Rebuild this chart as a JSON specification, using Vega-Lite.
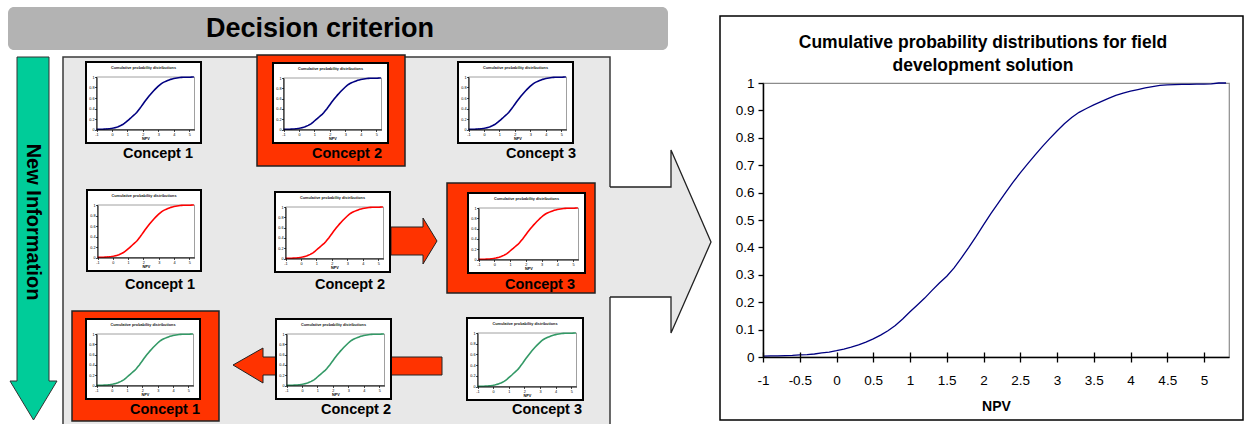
{
 "$schema": "https://vega.github.io/schema/vega-lite/v6.json",
 "width": 466,
 "height": 274,
 "autosize": {"type": "none"},
 "padding": {"left": 763, "top": 83, "right": 18, "bottom": 67},
 "background": "white",
 "title": {"text": ["Cumulative probability distributions for field", "development solution"], "fontSize": 17.5, "fontWeight": "bold", "font": "Liberation Sans", "color": "black", "lineHeight": 23, "anchor": "middle", "dx": -13, "offset": -67},
 "config": {
  "view": {"stroke": "#8c8c8c", "strokeWidth": 1.2},
  "font": "Liberation Sans",
  "axis": {"labelFontSize": 3.8, "tickSize": 2, "labelPadding": 0.5, "domainColor": "black", "tickColor": "black", "domainWidth": 1, "tickWidth": 0.7, "labelColor": "black", "grid": false, "labelOverlap": false, "labelFlush": false, "titleFontSize": 3.8, "titlePadding": 0.5, "titleFontWeight": "bold", "titleColor": "black", "labelFont": "Liberation Sans", "titleFont": "Liberation Sans"}
 },
 "datasets": {
  "cdf": [
   {"npv": -1.0, "p": 0.003}, {"npv": -0.9, "p": 0.004}, {"npv": -0.8, "p": 0.004}, {"npv": -0.7, "p": 0.005},
   {"npv": -0.6, "p": 0.006}, {"npv": -0.5, "p": 0.008}, {"npv": -0.4, "p": 0.009}, {"npv": -0.3, "p": 0.011},
   {"npv": -0.2, "p": 0.015}, {"npv": -0.1, "p": 0.018}, {"npv": 0.0, "p": 0.023}, {"npv": 0.1, "p": 0.029},
   {"npv": 0.2, "p": 0.036}, {"npv": 0.3, "p": 0.044}, {"npv": 0.4, "p": 0.054}, {"npv": 0.5, "p": 0.066},
   {"npv": 0.6, "p": 0.08}, {"npv": 0.7, "p": 0.096}, {"npv": 0.8, "p": 0.115}, {"npv": 0.9, "p": 0.139},
   {"npv": 1.0, "p": 0.165}, {"npv": 1.1, "p": 0.19}, {"npv": 1.2, "p": 0.215}, {"npv": 1.3, "p": 0.243},
   {"npv": 1.4, "p": 0.27}, {"npv": 1.5, "p": 0.295}, {"npv": 1.6, "p": 0.325}, {"npv": 1.7, "p": 0.362},
   {"npv": 1.8, "p": 0.4}, {"npv": 1.9, "p": 0.44}, {"npv": 2.0, "p": 0.482}, {"npv": 2.1, "p": 0.523},
   {"npv": 2.2, "p": 0.562}, {"npv": 2.3, "p": 0.6}, {"npv": 2.4, "p": 0.637}, {"npv": 2.5, "p": 0.672},
   {"npv": 2.6, "p": 0.705}, {"npv": 2.7, "p": 0.737}, {"npv": 2.8, "p": 0.768}, {"npv": 2.9, "p": 0.797},
   {"npv": 3.0, "p": 0.825}, {"npv": 3.1, "p": 0.851}, {"npv": 3.2, "p": 0.874}, {"npv": 3.3, "p": 0.893},
   {"npv": 3.4, "p": 0.907}, {"npv": 3.5, "p": 0.92}, {"npv": 3.6, "p": 0.932}, {"npv": 3.7, "p": 0.944},
   {"npv": 3.8, "p": 0.955}, {"npv": 3.9, "p": 0.963}, {"npv": 4.0, "p": 0.97}, {"npv": 4.1, "p": 0.976},
   {"npv": 4.2, "p": 0.982}, {"npv": 4.3, "p": 0.987}, {"npv": 4.4, "p": 0.991}, {"npv": 4.5, "p": 0.993},
   {"npv": 4.6, "p": 0.994}, {"npv": 4.7, "p": 0.995}, {"npv": 4.8, "p": 0.995}, {"npv": 4.9, "p": 0.996},
   {"npv": 5.0, "p": 0.996}, {"npv": 5.1, "p": 0.997}, {"npv": 5.2, "p": 1.0}, {"npv": 5.3, "p": 1.0}
  ]
 },
 "resolve": {"scale": {"x": "independent", "y": "independent"}},
 "layer": [
  {
   "encoding": {
    "x": {"field": "x", "type": "quantitative", "scale": {"domain": [0, 1247], "range": [-763, 484], "nice": false, "zero": false}, "axis": null},
    "y": {"field": "y", "type": "quantitative", "scale": {"domain": [0, 424], "range": [-83, 341], "nice": false, "zero": false}, "axis": null}
   },
   "layer": [
    {"data": {"values": [{"x": 8, "x2": 668, "y": 7, "y2": 50}]}, "mark": {"type": "rect", "fill": "#b3b3b3", "cornerRadius": 6}, "encoding": {"x2": {"field": "x2"}, "y2": {"field": "y2"}}},
    {"data": {"values": [{"x": 320, "y": 29, "t": "Decision criterion"}]}, "mark": {"type": "text", "fontSize": 27, "fontWeight": "bold", "color": "black", "font": "Liberation Sans"}, "encoding": {"text": {"field": "t"}}},
    {"data": {"values": [{"x": 720, "x2": 1243, "y": 16, "y2": 420}]}, "mark": {"type": "rect", "filled": false, "stroke": "black", "strokeWidth": 1.5}, "encoding": {"x2": {"field": "x2"}, "y2": {"field": "y2"}}},
    {"data": {"values": [{"x": 63, "x2": 610, "y": 57, "y2": 432}]}, "mark": {"type": "rect", "fill": "#e8e8e8", "stroke": "#3a3a3a", "strokeWidth": 1.5}, "encoding": {"x2": {"field": "x2"}, "y2": {"field": "y2"}}},
    {"data": {"values": [{"x": 605, "y": 187, "y2": 297}, {"x": 671, "y": 187, "y2": 297}, {"x": 671, "y": 150, "y2": 333}, {"x": 711, "y": 242, "y2": 242}]}, "mark": {"type": "area", "fill": "#e8e8e8", "interpolate": "linear"}, "encoding": {"y2": {"field": "y2"}}},
    {"data": {"values": [{"o": 1, "x": 610, "y": 187}, {"o": 2, "x": 671, "y": 187}, {"o": 3, "x": 671, "y": 150}, {"o": 4, "x": 711, "y": 242}, {"o": 5, "x": 671, "y": 333}, {"o": 6, "x": 671, "y": 297}, {"o": 7, "x": 610, "y": 297}]}, "mark": {"type": "line", "color": "#222222", "strokeWidth": 1.3}, "encoding": {"order": {"field": "o"}}},
    {"data": {"values": [{"y": 57, "x": 17, "x2": 49}, {"y": 381, "x": 17, "x2": 49}, {"y": 381, "x": 10, "x2": 57}, {"y": 420, "x": 33.5, "x2": 33.5}]}, "mark": {"type": "area", "orient": "horizontal", "fill": "#00cc99", "stroke": "#333333", "strokeWidth": 1}, "encoding": {"x2": {"field": "x2"}}},
    {"data": {"values": [{"x": 33, "y": 222, "t": "New Information"}]}, "mark": {"type": "text", "angle": 90, "fontSize": 20, "fontWeight": "bold", "color": "black", "font": "Liberation Sans"}, "encoding": {"text": {"field": "t"}}},
    {"data": {"values": [{"x": 257, "x2": 405, "y": 55, "y2": 166}, {"x": 447, "x2": 595, "y": 183, "y2": 293}, {"x": 72, "x2": 219, "y": 311, "y2": 421}]}, "mark": {"type": "rect", "fill": "#ff3300", "stroke": "#222222", "strokeWidth": 1.5}, "encoding": {"x2": {"field": "x2"}, "y2": {"field": "y2"}}},
    {"data": {"values": [
      {"id": "a", "x": 391, "y": 227, "y2": 255}, {"id": "a", "x": 423, "y": 227, "y2": 255}, {"id": "a", "x": 423, "y": 218, "y2": 264}, {"id": "a", "x": 437, "y": 241, "y2": 241},
      {"id": "b", "x": 233, "y": 365, "y2": 365}, {"id": "b", "x": 263, "y": 348, "y2": 383}, {"id": "b", "x": 263, "y": 357, "y2": 375}, {"id": "b", "x": 442, "y": 357, "y2": 375}
     ]}, "mark": {"type": "area", "fill": "#ff3300", "stroke": "#222222", "strokeWidth": 1}, "encoding": {"y2": {"field": "y2"}, "detail": {"field": "id", "type": "nominal"}}},
    {"data": {"values": [
      {"x": 86, "x2": 201, "y": 62, "y2": 143}, {"x": 273, "x2": 388, "y": 63, "y2": 143}, {"x": 458, "x2": 573, "y": 62, "y2": 143},
      {"x": 87, "x2": 201, "y": 190, "y2": 271}, {"x": 275, "x2": 390, "y": 192, "y2": 272}, {"x": 468, "x2": 585, "y": 193, "y2": 273},
      {"x": 86, "x2": 200, "y": 319, "y2": 399}, {"x": 276, "x2": 391, "y": 319, "y2": 399}, {"x": 467, "x2": 583, "y": 318, "y2": 400}
     ]}, "mark": {"type": "rect", "fill": "white", "stroke": "black", "strokeWidth": 2}, "encoding": {"x2": {"field": "x2"}, "y2": {"field": "y2"}}},
    {"data": {"values": [
      {"x": 158, "y": 154, "t": "Concept 1"}, {"x": 347, "y": 154, "t": "Concept 2"}, {"x": 541, "y": 154, "t": "Concept 3"},
      {"x": 160, "y": 285, "t": "Concept 1"}, {"x": 350, "y": 285, "t": "Concept 2"}, {"x": 540, "y": 285, "t": "Concept 3"},
      {"x": 165, "y": 410, "t": "Concept 1"}, {"x": 356, "y": 410, "t": "Concept 2"}, {"x": 547, "y": 410, "t": "Concept 3"}
     ]}, "mark": {"type": "text", "fontSize": 14.5, "fontWeight": "bold", "color": "black", "font": "Liberation Sans"}, "encoding": {"text": {"field": "t"}}},
    {"data": {"values": [
      {"x": 143.5, "y": 68}, {"x": 330.5, "y": 69}, {"x": 515.5, "y": 68},
      {"x": 144, "y": 196}, {"x": 332.5, "y": 198}, {"x": 526.5, "y": 199},
      {"x": 143, "y": 325}, {"x": 333.5, "y": 325}, {"x": 525, "y": 324}
     ]}, "mark": {"type": "text", "fontSize": 3.8, "fontWeight": "bold", "color": "#111111", "font": "Liberation Sans", "text": "Cumulative probability distributions"}}
   ]
  },
  {
   "layer": [
    {"data": {"values": [{}]}, "mark": {"type": "rect", "fill": "white", "stroke": "#888888", "strokeWidth": 0.8}, "encoding": {"x": {"datum": -1, "type": "quantitative"}, "x2": {"datum": 5.34}, "y": {"datum": 0, "type": "quantitative"}, "y2": {"datum": 1}}},
    {"data": {"name": "cdf"}, "mark": {"type": "line", "color": "#000080", "strokeWidth": 1.6},
     "encoding": {
      "x": {"field": "npv", "type": "quantitative", "scale": {"domain": [-1, 5.34], "range": [-666.5, -568.5], "nice": false, "zero": false}, "axis": {"orient": "bottom", "zindex": 2, "offset": -227.5, "values": [-1, -0.5, 0, 0.5, 1, 1.5, 2, 2.5, 3, 3.5, 4, 4.5, 5], "title": "NPV", "labelExpr": "'' + datum.value"}},
      "y": {"field": "p", "type": "quantitative", "scale": {"domain": [0, 1], "range": [46.5, -6], "nice": false, "zero": false}, "axis": {"orient": "left", "zindex": 2, "offset": 666.5, "values": [0, 0.1, 0.2, 0.3, 0.4, 0.5, 0.6, 0.7, 0.8, 0.9, 1], "title": null, "labelExpr": "'' + datum.value"}}
     }}
   ]
  },
  {
   "layer": [
    {"data": {"values": [{}]}, "mark": {"type": "rect", "fill": "white", "stroke": "#888888", "strokeWidth": 0.8}, "encoding": {"x": {"datum": -1, "type": "quantitative"}, "x2": {"datum": 5.34}, "y": {"datum": 0, "type": "quantitative"}, "y2": {"datum": 1}}},
    {"data": {"name": "cdf"}, "mark": {"type": "line", "color": "#000080", "strokeWidth": 1.6},
     "encoding": {
      "x": {"field": "npv", "type": "quantitative", "scale": {"domain": [-1, 5.34], "range": [-479.5, -381.5], "nice": false, "zero": false}, "axis": {"orient": "bottom", "zindex": 2, "offset": -227.5, "values": [-1, -0.5, 0, 0.5, 1, 1.5, 2, 2.5, 3, 3.5, 4, 4.5, 5], "title": "NPV", "labelExpr": "'' + datum.value"}},
      "y": {"field": "p", "type": "quantitative", "scale": {"domain": [0, 1], "range": [46.5, -5], "nice": false, "zero": false}, "axis": {"orient": "left", "zindex": 2, "offset": 479.5, "values": [0, 0.1, 0.2, 0.3, 0.4, 0.5, 0.6, 0.7, 0.8, 0.9, 1], "title": null, "labelExpr": "'' + datum.value"}}
     }}
   ]
  },
  {
   "layer": [
    {"data": {"values": [{}]}, "mark": {"type": "rect", "fill": "white", "stroke": "#888888", "strokeWidth": 0.8}, "encoding": {"x": {"datum": -1, "type": "quantitative"}, "x2": {"datum": 5.34}, "y": {"datum": 0, "type": "quantitative"}, "y2": {"datum": 1}}},
    {"data": {"name": "cdf"}, "mark": {"type": "line", "color": "#000080", "strokeWidth": 1.6},
     "encoding": {
      "x": {"field": "npv", "type": "quantitative", "scale": {"domain": [-1, 5.34], "range": [-294.5, -196.5], "nice": false, "zero": false}, "axis": {"orient": "bottom", "zindex": 2, "offset": -227.5, "values": [-1, -0.5, 0, 0.5, 1, 1.5, 2, 2.5, 3, 3.5, 4, 4.5, 5], "title": "NPV", "labelExpr": "'' + datum.value"}},
      "y": {"field": "p", "type": "quantitative", "scale": {"domain": [0, 1], "range": [46.5, -6], "nice": false, "zero": false}, "axis": {"orient": "left", "zindex": 2, "offset": 294.5, "values": [0, 0.1, 0.2, 0.3, 0.4, 0.5, 0.6, 0.7, 0.8, 0.9, 1], "title": null, "labelExpr": "'' + datum.value"}}
     }}
   ]
  },
  {
   "layer": [
    {"data": {"values": [{}]}, "mark": {"type": "rect", "fill": "white", "stroke": "#888888", "strokeWidth": 0.8}, "encoding": {"x": {"datum": -1, "type": "quantitative"}, "x2": {"datum": 5.34}, "y": {"datum": 0, "type": "quantitative"}, "y2": {"datum": 1}}},
    {"data": {"name": "cdf"}, "mark": {"type": "line", "color": "#ff0000", "strokeWidth": 1.6},
     "encoding": {
      "x": {"field": "npv", "type": "quantitative", "scale": {"domain": [-1, 5.34], "range": [-665.5, -568.5], "nice": false, "zero": false}, "axis": {"orient": "bottom", "zindex": 2, "offset": -99.5, "values": [-1, -0.5, 0, 0.5, 1, 1.5, 2, 2.5, 3, 3.5, 4, 4.5, 5], "title": "NPV", "labelExpr": "'' + datum.value"}},
      "y": {"field": "p", "type": "quantitative", "scale": {"domain": [0, 1], "range": [174.5, 122], "nice": false, "zero": false}, "axis": {"orient": "left", "zindex": 2, "offset": 665.5, "values": [0, 0.1, 0.2, 0.3, 0.4, 0.5, 0.6, 0.7, 0.8, 0.9, 1], "title": null, "labelExpr": "'' + datum.value"}}
     }}
   ]
  },
  {
   "layer": [
    {"data": {"values": [{}]}, "mark": {"type": "rect", "fill": "white", "stroke": "#888888", "strokeWidth": 0.8}, "encoding": {"x": {"datum": -1, "type": "quantitative"}, "x2": {"datum": 5.34}, "y": {"datum": 0, "type": "quantitative"}, "y2": {"datum": 1}}},
    {"data": {"name": "cdf"}, "mark": {"type": "line", "color": "#ff0000", "strokeWidth": 1.6},
     "encoding": {
      "x": {"field": "npv", "type": "quantitative", "scale": {"domain": [-1, 5.34], "range": [-477.5, -379.5], "nice": false, "zero": false}, "axis": {"orient": "bottom", "zindex": 2, "offset": -98.5, "values": [-1, -0.5, 0, 0.5, 1, 1.5, 2, 2.5, 3, 3.5, 4, 4.5, 5], "title": "NPV", "labelExpr": "'' + datum.value"}},
      "y": {"field": "p", "type": "quantitative", "scale": {"domain": [0, 1], "range": [175.5, 124], "nice": false, "zero": false}, "axis": {"orient": "left", "zindex": 2, "offset": 477.5, "values": [0, 0.1, 0.2, 0.3, 0.4, 0.5, 0.6, 0.7, 0.8, 0.9, 1], "title": null, "labelExpr": "'' + datum.value"}}
     }}
   ]
  },
  {
   "layer": [
    {"data": {"values": [{}]}, "mark": {"type": "rect", "fill": "white", "stroke": "#888888", "strokeWidth": 0.8}, "encoding": {"x": {"datum": -1, "type": "quantitative"}, "x2": {"datum": 5.34}, "y": {"datum": 0, "type": "quantitative"}, "y2": {"datum": 1}}},
    {"data": {"name": "cdf"}, "mark": {"type": "line", "color": "#ff0000", "strokeWidth": 1.6},
     "encoding": {
      "x": {"field": "npv", "type": "quantitative", "scale": {"domain": [-1, 5.34], "range": [-284.5, -184.5], "nice": false, "zero": false}, "axis": {"orient": "bottom", "zindex": 2, "offset": -97.5, "values": [-1, -0.5, 0, 0.5, 1, 1.5, 2, 2.5, 3, 3.5, 4, 4.5, 5], "title": "NPV", "labelExpr": "'' + datum.value"}},
      "y": {"field": "p", "type": "quantitative", "scale": {"domain": [0, 1], "range": [176.5, 125], "nice": false, "zero": false}, "axis": {"orient": "left", "zindex": 2, "offset": 284.5, "values": [0, 0.1, 0.2, 0.3, 0.4, 0.5, 0.6, 0.7, 0.8, 0.9, 1], "title": null, "labelExpr": "'' + datum.value"}}
     }}
   ]
  },
  {
   "layer": [
    {"data": {"values": [{}]}, "mark": {"type": "rect", "fill": "white", "stroke": "#888888", "strokeWidth": 0.8}, "encoding": {"x": {"datum": -1, "type": "quantitative"}, "x2": {"datum": 5.34}, "y": {"datum": 0, "type": "quantitative"}, "y2": {"datum": 1}}},
    {"data": {"name": "cdf"}, "mark": {"type": "line", "color": "#339966", "strokeWidth": 1.6},
     "encoding": {
      "x": {"field": "npv", "type": "quantitative", "scale": {"domain": [-1, 5.34], "range": [-666.5, -569.5], "nice": false, "zero": false}, "axis": {"orient": "bottom", "zindex": 2, "offset": 28.5, "values": [-1, -0.5, 0, 0.5, 1, 1.5, 2, 2.5, 3, 3.5, 4, 4.5, 5], "title": "NPV", "labelExpr": "'' + datum.value"}},
      "y": {"field": "p", "type": "quantitative", "scale": {"domain": [0, 1], "range": [302.5, 251], "nice": false, "zero": false}, "axis": {"orient": "left", "zindex": 2, "offset": 666.5, "values": [0, 0.1, 0.2, 0.3, 0.4, 0.5, 0.6, 0.7, 0.8, 0.9, 1], "title": null, "labelExpr": "'' + datum.value"}}
     }}
   ]
  },
  {
   "layer": [
    {"data": {"values": [{}]}, "mark": {"type": "rect", "fill": "white", "stroke": "#888888", "strokeWidth": 0.8}, "encoding": {"x": {"datum": -1, "type": "quantitative"}, "x2": {"datum": 5.34}, "y": {"datum": 0, "type": "quantitative"}, "y2": {"datum": 1}}},
    {"data": {"name": "cdf"}, "mark": {"type": "line", "color": "#339966", "strokeWidth": 1.6},
     "encoding": {
      "x": {"field": "npv", "type": "quantitative", "scale": {"domain": [-1, 5.34], "range": [-476.5, -378.5], "nice": false, "zero": false}, "axis": {"orient": "bottom", "zindex": 2, "offset": 28.5, "values": [-1, -0.5, 0, 0.5, 1, 1.5, 2, 2.5, 3, 3.5, 4, 4.5, 5], "title": "NPV", "labelExpr": "'' + datum.value"}},
      "y": {"field": "p", "type": "quantitative", "scale": {"domain": [0, 1], "range": [302.5, 251], "nice": false, "zero": false}, "axis": {"orient": "left", "zindex": 2, "offset": 476.5, "values": [0, 0.1, 0.2, 0.3, 0.4, 0.5, 0.6, 0.7, 0.8, 0.9, 1], "title": null, "labelExpr": "'' + datum.value"}}
     }}
   ]
  },
  {
   "layer": [
    {"data": {"values": [{}]}, "mark": {"type": "rect", "fill": "white", "stroke": "#888888", "strokeWidth": 0.8}, "encoding": {"x": {"datum": -1, "type": "quantitative"}, "x2": {"datum": 5.34}, "y": {"datum": 0, "type": "quantitative"}, "y2": {"datum": 1}}},
    {"data": {"name": "cdf"}, "mark": {"type": "line", "color": "#339966", "strokeWidth": 1.6},
     "encoding": {
      "x": {"field": "npv", "type": "quantitative", "scale": {"domain": [-1, 5.34], "range": [-285.5, -186.5], "nice": false, "zero": false}, "axis": {"orient": "bottom", "zindex": 2, "offset": 29.5, "values": [-1, -0.5, 0, 0.5, 1, 1.5, 2, 2.5, 3, 3.5, 4, 4.5, 5], "title": "NPV", "labelExpr": "'' + datum.value"}},
      "y": {"field": "p", "type": "quantitative", "scale": {"domain": [0, 1], "range": [303.5, 250], "nice": false, "zero": false}, "axis": {"orient": "left", "zindex": 2, "offset": 285.5, "values": [0, 0.1, 0.2, 0.3, 0.4, 0.5, 0.6, 0.7, 0.8, 0.9, 1], "title": null, "labelExpr": "'' + datum.value"}}
     }}
   ]
  },
  {
   "data": {"name": "cdf"},
   "resolve": {"axis": {"x": "independent", "y": "independent"}},
   "layer": [
    {"mark": {"type": "line", "color": "#000080", "strokeWidth": 1.3},
     "encoding": {
      "x": {"field": "npv", "type": "quantitative", "scale": {"domain": [-1, 5.34], "nice": false, "zero": false},
            "axis": {"orient": "bottom", "zindex": 1, "values": [-1, -0.5, 0, 0.5, 1, 1.5, 2, 2.5, 3, 3.5, 4, 4.5, 5], "labelExpr": "'' + datum.value", "labelFontSize": 13.5, "labelColor": "black", "tickSize": 5, "tickWidth": 1.3, "domainWidth": 1.5, "labelPadding": 11, "title": "NPV", "titleFontSize": 14, "titlePadding": 13, "titleFontWeight": "bold"}},
      "y": {"field": "p", "type": "quantitative", "scale": {"domain": [0, 1], "nice": false, "zero": false},
            "axis": {"orient": "left", "zindex": 1, "values": [0, 0.1, 0.2, 0.3, 0.4, 0.5, 0.6, 0.7, 0.8, 0.9, 1], "labelExpr": "'' + datum.value", "labelFontSize": 13.5, "labelColor": "black", "tickSize": 5, "tickWidth": 1.3, "domainWidth": 1.5, "labelPadding": 4, "title": null}}
     }},
    {"mark": {"type": "line", "strokeOpacity": 0},
     "encoding": {
      "x": {"field": "npv", "type": "quantitative", "axis": {"orient": "bottom", "zindex": 1, "values": [-1, -0.5, 0, 0.5, 1, 1.5, 2, 2.5, 3, 3.5, 4, 4.5, 5], "tickSize": -5, "tickWidth": 1.3, "labels": false, "domain": false, "title": null}},
      "y": {"field": "p", "type": "quantitative", "axis": null}
     }}
   ]
  }
 ]
}
